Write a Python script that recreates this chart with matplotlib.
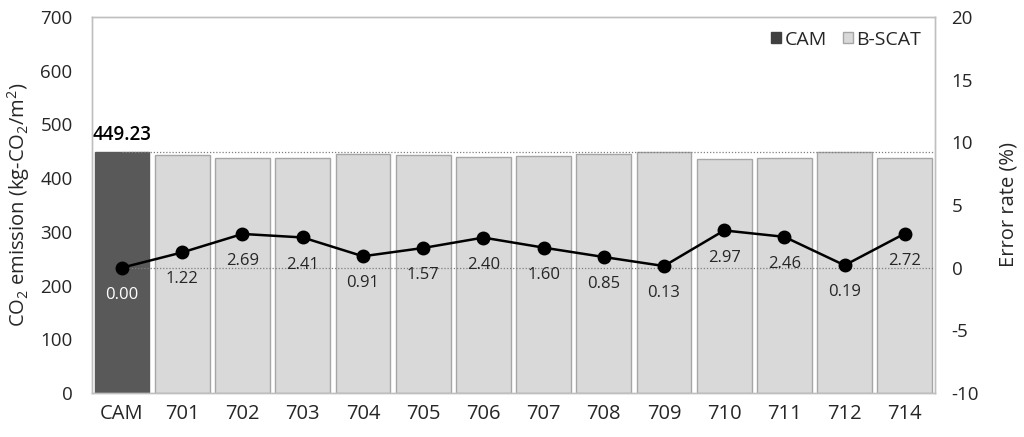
import matplotlib
matplotlib.use("Agg")
import matplotlib.pyplot as plt
from matplotlib.patches import Patch
import numpy as np

# Chart data
categories = ["CAM", "701", "702", "703", "704", "705", "706", "707", "708", "709", "710", "711", "712", "714"]
error_rate = [0.00, 1.22, 2.69, 2.41, 0.91, 1.57, 2.40, 1.60, 0.85, 0.13, 2.97, 2.46, 0.19, 2.72]
cam_value = 449.23
emission = [449.23, 443.75, 437.15, 438.40, 445.14, 442.18, 438.45, 442.04, 445.41,
            448.65, 435.89, 438.18, 448.38, 437.01]

plt.rcParams["font.family"] = ["Open Sans", "DejaVu Sans"]
plt.rcParams["mathtext.fontset"] = "custom"
plt.rcParams["mathtext.rm"] = "Open Sans"
plt.rcParams["mathtext.it"] = "Open Sans"
plt.rcParams["axes.unicode_minus"] = False

fig = plt.figure(figsize=(10.24, 4.37), dpi=100)
ax1 = fig.add_axes([0.0898, 0.1007, 0.8232, 0.8604])
ax2 = ax1.twinx()

x = np.arange(len(categories))
colors = ["#595959"] + ["#d9d9d9"] * (len(categories) - 1)
edges = ["#595959"] + ["#a6a6a6"] * (len(categories) - 1)
ax1.bar(x, emission, width=0.91, color=colors, edgecolor=edges, linewidth=1.0, zorder=2)

ax1.set_xlim(-0.5, len(categories) - 0.5)
ax1.set_ylim(0, 700)
ax1.set_yticks(range(0, 701, 100))
ax1.set_xticks(x)
ax1.set_xticklabels(categories, fontsize=14.5, color="#262626")
ax1.tick_params(axis="y", labelsize=13.5, colors="#262626", length=0, pad=14)
ax1.tick_params(axis="x", length=0, pad=8)
ax1.set_ylabel("CO$_2$ emission (kg-CO$_2$/m$^2$)", fontsize=14.5, color="#262626", labelpad=6)

# reference line at CAM level
ax1.plot([0, len(categories) - 0.5], [cam_value, cam_value], color="#7f7f7f",
         linestyle=(0, (1, 1.5)), linewidth=0.9, zorder=3)
ax1.text(0, cam_value + 12, f"{cam_value:.2f}", ha="center", va="bottom", fontsize=13.5,
         color="black", fontweight="semibold")

# error rate line
ax2.plot([0, len(categories) - 0.5], [0, 0], color="#7f7f7f",
         linestyle=(0, (1, 1.5)), linewidth=0.9, zorder=3)
ax2.plot(x, error_rate, color="black", linewidth=1.8, marker="o", markersize=9, zorder=4)
for i, e in enumerate(error_rate):
    ax2.annotate(f"{e:.2f}", (i, e), xytext=(0, -19.5), textcoords="offset points",
                 ha="center", va="center", fontsize=12,
                 color="white" if i == 0 else "#262626")
ax2.set_ylim(-10, 20)
ax2.set_yticks(range(-10, 21, 5))
ax2.tick_params(axis="y", labelsize=13.5, colors="#262626", length=0, pad=12)
ax2.set_ylabel("Error rate (%)", fontsize=14.5, color="#262626", labelpad=14)

for ax in (ax1, ax2):
    for s in ax.spines.values():
        s.set_color("#bfbfbf")
        s.set_linewidth(1.0)

handles = [Patch(facecolor="#404040", edgecolor="#404040", label="CAM"),
           Patch(facecolor="#d9d9d9", edgecolor="#a6a6a6", label="B-SCAT")]
ax2.legend(handles=handles, loc="upper right", frameon=False, fontsize=14,
           handlelength=0.5, handleheight=0.5, handletextpad=0.2, columnspacing=0.8,
           ncol=2, borderaxespad=0.3, labelcolor="#262626")

fig.savefig("out.png", dpi=100)
